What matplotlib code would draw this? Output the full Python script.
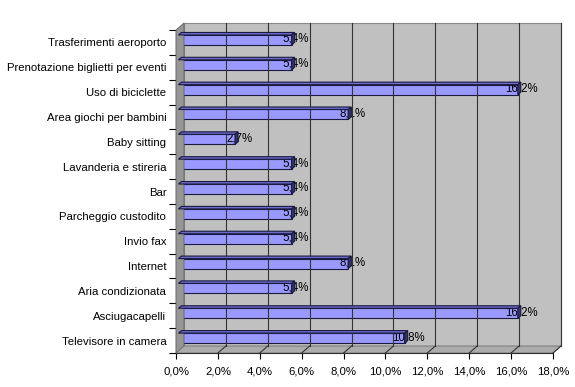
import numpy as np
import matplotlib.pyplot as plt
from matplotlib.patches import Polygon
from matplotlib.transforms import IdentityTransform, offset_copy

plt.rcParams['font.family'] = ['Liberation Sans', 'DejaVu Sans']

categories = ['Trasferimenti aeroporto', 'Prenotazione biglietti per eventi',
              'Uso di biciclette', 'Area giochi per bambini', 'Baby sitting',
              'Lavanderia e stireria', 'Bar', 'Parcheggio custodito', 'Invio fax',
              'Internet', 'Aria condizionata', 'Asciugacapelli', 'Televisore in camera']
values = [5.4, 5.4, 16.2, 8.1, 2.7, 5.4, 5.4, 5.4, 5.4, 8.1, 5.4, 16.2, 10.8]
x_ticks = [0, 2, 4, 6, 8, 10, 12, 14, 16, 18]

n = len(categories)
y = np.arange(n)

fig = plt.figure(figsize=(5.75, 3.87), dpi=100)
W, H = 575, 387
# front plane of the 3d box, in pixels
ax = fig.add_axes([176 / W, (H - 353) / H, 377 / W, 323 / H])
ax.set_xlim(0, 18)
ax.set_ylim(n - 0.5, -0.5)
ax.patch.set_visible(False)
for s in ['top', 'right']:
    ax.spines[s].set_visible(False)
ax.spines['left'].set_linewidth(0.8)
ax.spines['bottom'].set_linewidth(0.8)

DX, DY = 8, 7          # full depth of the box (pixels)
BX, BY = 2.5, 2.5      # bar front face offset
TX, TY = 3, 2.5        # bar depth

ident = IdentityTransform()


def px(xv, yv):
    return ax.transData.transform((xv, yv))


# walls
fb0, fb1 = px(0, n - 0.5), px(18, n - 0.5)   # front bottom
ft0 = px(0, -0.5)                            # front top
d = np.array([DX, DY])
back = Polygon([fb0 + d, fb1 + d, np.array([fb1[0], ft0[1]]) + d, ft0 + d],
               closed=True, facecolor='#c0c0c0', edgecolor='#8a8a8a', lw=0.8,
               transform=ident, zorder=0)
left = Polygon([fb0, ft0, ft0 + d, fb0 + d], closed=True, facecolor='#969696',
               edgecolor='#606060', lw=0.6, transform=ident, zorder=0.5)
floor = Polygon([fb0, fb1, fb1 + d, fb0 + d], closed=True, facecolor='#acacac',
                edgecolor='#707070', lw=0.6, transform=ident, zorder=0.5)
for p in (back, left, floor):
    fig.add_artist(p)

# gridlines on back wall and floor
for t in x_ticks[1:]:
    b = px(t, n - 0.5)
    tp = px(t, -0.5)
    fig.add_artist(plt.Line2D([b[0] + DX, b[0] + DX], [b[1] + DY, tp[1] + DY],
                              color='#333333', lw=0.8, transform=ident, zorder=0.6))
    fig.add_artist(plt.Line2D([b[0], b[0] + DX], [b[1], b[1] + DY],
                              color='#333333', lw=0.8, transform=ident, zorder=0.6))

# bars: front faces
bar_h = 0.4
ax.barh(y, values, height=bar_h, color='#9999ff', edgecolor='#1a1a40', lw=0.8,
        transform=offset_copy(ax.transData, fig=fig, x=BX, y=BY, units='dots'),
        zorder=3)

# top and right faces
for yi, v in zip(y, values):
    tl = px(0, yi - bar_h / 2) + [BX, BY]
    tr = px(v, yi - bar_h / 2) + [BX, BY]
    br = px(v, yi + bar_h / 2) + [BX, BY]
    dd = np.array([TX, TY])
    fig.add_artist(Polygon([tl, tr, tr + dd, tl + dd], closed=True,
                           facecolor='#6b6bcc', edgecolor='#1a1a40', lw=0.8,
                           transform=ident, zorder=2.9))
    fig.add_artist(Polygon([br, tr, tr + dd, br + dd], closed=True,
                           facecolor='#33336e', edgecolor='#1a1a40', lw=0.8,
                           transform=ident, zorder=2.9))

# value labels
lab_tr = offset_copy(ax.transData, fig=fig, x=6.5, y=3.5, units='dots')
for yi, v in zip(y, values):
    ax.text(v, yi, f'{v:.1f}%'.replace('.', ','), transform=lab_tr,
            ha='center', va='center', fontsize=8.3, color='black', zorder=5)

# axes ticks
ax.set_yticks(y)
ax.set_yticklabels(categories, fontsize=8.2)
ax.set_yticks(np.arange(n + 1) - 0.5, minor=True)
ax.tick_params(axis='y', which='major', length=0, pad=7)
ax.tick_params(axis='y', which='minor', length=5, width=0.8, direction='out')
ax.set_xticks(x_ticks)
ax.set_xticklabels([f'{t:.1f}%'.replace('.', ',') for t in x_ticks], fontsize=8.2)
ax.tick_params(axis='x', length=4, width=0.8, pad=6)

fig.savefig('out.png', dpi=100)
